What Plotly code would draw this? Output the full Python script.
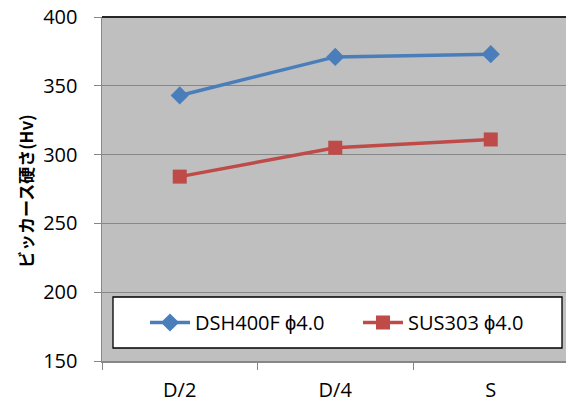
import plotly.graph_objects as go

categories = ["D/2", "D/4", "S"]
dsh400f = [343, 371, 373]
sus303 = [284, 305, 311]
series_names = ["DSH400F ϕ4.0", "SUS303 ϕ4.0"]
y_ticks = [150, 200, 250, 300, 350, 400]
y_title = "ビッカース硬さ(Hv)"

W, H = 566, 401
ml, mr, mt, mb = 102, 0, 17, 40
pw, ph = W - ml - mr, H - mt - mb
cat_px = 155.5

font_main = "Open Sans, Noto Sans CJK JP, sans-serif"

fig = go.Figure()
fig.add_trace(go.Scatter(
    x=categories, y=dsh400f, name=series_names[0], mode="lines+markers",
    line=dict(color="#4A7EBB", width=3.5),
    marker=dict(symbol="diamond", size=14, color="#4A7EBB"),
))
fig.add_trace(go.Scatter(
    x=categories, y=sus303, name=series_names[1], mode="lines+markers",
    line=dict(color="#BE4B48", width=3.5),
    marker=dict(symbol="square", size=14, color="#BE4B48"),
))

# legend box
bx0, bx1, by0, by1 = 113, 562, 297, 348
fig.add_shape(type="rect", xref="paper", yref="paper",
              x0=(bx0 - ml) / pw, x1=(bx1 - ml) / pw,
              y0=(H - mb - by1) / ph, y1=(H - mb - by0) / ph,
              fillcolor="white", line=dict(color="black", width=1.3), layer="above")
# top border
fig.add_shape(type="line", xref="paper", yref="paper", x0=0, x1=1, y0=1, y1=1,
              line=dict(color="#262626", width=2))

fig.add_annotation(text="<b>" + y_title + "</b>", xref="paper", yref="paper",
                   x=(25 - ml) / pw, y=(H - mb - 191) / ph, textangle=-90,
                   showarrow=False, xanchor="center", yanchor="middle",
                   font=dict(family="Noto Sans CJK JP", size=17, color="black"))

fig.update_layout(
    width=W, height=H,
    margin=dict(l=ml, r=mr, t=mt, b=mb, autoexpand=False),
    paper_bgcolor="white", plot_bgcolor="#BFBFBF",
    font=dict(family=font_main, size=20, color="black"),
    showlegend=True,
    legend=dict(orientation="h", x=(358 - ml) / pw, xanchor="center",
                y=(H - mb - (by0 + by1) / 2) / ph, yanchor="middle",
                bgcolor="rgba(0,0,0,0)", borderwidth=0,
                font=dict(family=font_main, size=20), itemwidth=40,
                entrywidth=158, tracegroupgap=0),
    xaxis=dict(type="category", range=[-0.5, -0.5 + pw / cat_px],
               showgrid=False, showline=True, linecolor="#878787", linewidth=1.5,
               ticks="outside", tickson="boundaries", ticklen=7, tickcolor="#878787",
               tickfont=dict(size=20), ticklabelstandoff=10,
               fixedrange=True, automargin=False),
    yaxis=dict(range=[150, 400], tickvals=y_ticks, showgrid=True,
               gridcolor="#878787", gridwidth=1.3, zeroline=False,
               showline=True, linecolor="#878787", linewidth=1.5,
               ticks="outside", ticklen=7, tickcolor="#878787",
               tickfont=dict(size=20), ticklabelstandoff=12, automargin=False,
               fixedrange=True),
)

fig.write_html("out.html", config={"displayModeBar": False, "staticPlot": True},
               post_script="document.body.style.margin='0';document.body.style.overflow='hidden';")
